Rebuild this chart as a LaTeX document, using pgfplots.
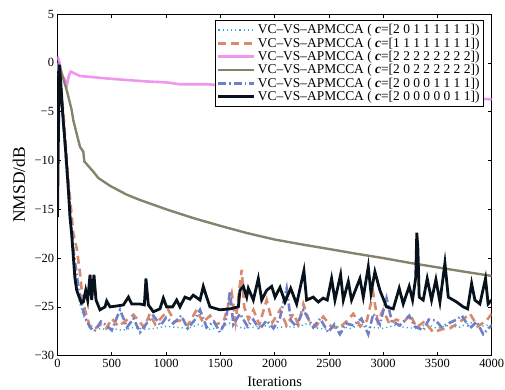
\documentclass[border=0pt]{standalone}
\usepackage{pgfplots}
\pgfplotsset{compat=1.18}
\usepackage{fontspec}
\setmainfont{Liberation Serif}
\definecolor{ccyan}{RGB}{40,170,205}
\definecolor{csalmon}{RGB}{218,138,108}
\definecolor{cpink}{RGB}{240,150,240}
\definecolor{colive}{RGB}{132,132,108}
\definecolor{cblue}{RGB}{112,128,200}
\definecolor{cblack}{RGB}{8,18,28}
\newcommand{\entry}[1]{VC--VS--APMCCA ( \textbf{\textit{c}}=[#1])}
\begin{document}
\begin{tikzpicture}
\useasboundingbox (-57.5bp,-34.3bp) rectangle (447.5bp,355.7bp);
\begin{axis}[
  at={(0,0)}, anchor=south west,
  scale only axis, width=434.2bp, height=341.7bp,
  xmin=0, xmax=4000, ymin=-30, ymax=5,
  xtick={0,500,...,4000},
  ytick={-30,-25,-20,-15,-10,-5,0,5},
  yticklabels={−30,−25,−20,−15,−10,−5,0,5},
  tick align=inside, ticks=major,
  major tick length=4bp,
  tick style={black, line width=0.6pt},
  axis line style={black, line width=0.8pt},
  /pgf/number format/assume math mode=true,
  /pgf/number format/1000 sep={},
  tick label style={font=\fontsize{12.5}{14}\selectfont},
  xlabel={Iterations}, ylabel={NMSD/dB},
  xlabel style={font=\fontsize{14.5}{16}\selectfont, at={(axis description cs:0.5,0)}, anchor=base, yshift=-31bp},
  ylabel style={font=\fontsize{17.5}{19}\selectfont, at={(axis description cs:0,0.5)}, anchor=center, rotate=0, yshift=38.5bp},
  legend style={at={(0.982,0.982)}, anchor=north east, draw=black, line width=0.8pt,
    font=\fontsize{13.5}{15}\selectfont, inner sep=2pt, row sep=-1.5pt},
  legend cell align=left,
  legend image code/.code={\draw[#1] (0bp,0bp) -- (36bp,0bp);},
]
\addplot[ccyan, line width=1.4pt, dash pattern=on 1.2pt off 3pt] coordinates {
(0,0) (30,-3) (60,-7) (100,-13) (150,-20) (200,-24.5) (250,-26.3) (300,-26.9) (400,-27.3) (500,-27.2) (600,-27.4) (700,-27.1) (800,-27.3) (900,-27.2) (1000,-27) (1100,-27.1) (1200,-27.2) (1300,-26.8) (1400,-27.3) (1500,-27.1) (1600,-26.6) (1700,-27.2) (1800,-27.1) (1900,-26.9) (2000,-27.2) (2100,-27) (2200,-27.1) (2300,-26.7) (2400,-27.2) (2500,-27.3) (2600,-27.0) (2700,-27.2) (2800,-26.8) (2900,-27.1) (3000,-27.2) (3100,-26.9) (3200,-27.1) (3300,-27.2) (3400,-26.8) (3500,-27.2) (3600,-26.9) (3700,-27.1) (3800,-26.6) (3900,-27.0) (4000,-26.8)
};
\addlegendentry{\entry{2 0 1 1 1 1 1 1}}
\addplot[csalmon, line width=2.6pt, dash pattern=on 8pt off 5pt] coordinates {
(0,0) (30,-2) (60,-6) (100,-12) (146,-17.5) (177,-19) (207,-21.5) (223,-23.3) (253,-25.3) (300,-27.1) (350,-27.2) (400,-26.8) (450,-27.2) (500,-26.2) (560,-27) (620,-26.5) (700,-25.8) (760,-26.6) (800,-27.1) (850,-25.7) (900,-26.8) (950,-26.2) (1020,-25.3) (1080,-26.5) (1128,-26.4) (1200,-26.9) (1282,-25.3) (1340,-26.6) (1405,-25.9) (1460,-26.8) (1530,-26.5) (1605,-23.6) (1640,-26.5) (1697,-21.2) (1720,-25) (1760,-26.3) (1804,-25.3) (1860,-26.8) (1927,-24.3) (1980,-26.6) (2050,-25.3) (2110,-26.9) (2173,-25.7) (2220,-26.8) (2265,-24.7) (2320,-26.5) (2380,-27) (2448,-26) (2520,-27) (2602,-27.1) (2660,-26.5) (2725,-25.7) (2790,-27) (2850,-26.4) (2909,-23.6) (2950,-26.5) (3000,-25.3) (3060,-26.8) (3120,-26.3) (3185,-26.6) (3250,-25.8) (3308,-27.1) (3380,-26.5) (3461,-27.6) (3540,-27.3) (3615,-27.2) (3700,-26.6) (3800,-25.7) (3870,-27) (3953,-26.4) (4000,-25.7)
};
\addlegendentry{\entry{1 1 1 1 1 1 1 1}}
\addplot[cpink, line width=2.6pt] coordinates {
(0,0.65) (15,0.2) (40,-1.2) (70,-1.8) (88,-2.2) (105,-1.3) (121,-0.9) (207,-1.35) (453,-1.6) (637,-1.76) (852,-1.93) (1000,-2.0) (1128,-2.2) (1387,-2.2) (1700,-2.5) (2000,-2.7) (2500,-3.0) (3000,-3.3) (3500,-3.55) (3930,-3.7) (4000,-3.75)
};
\addlegendentry{\entry{2 2 2 2 2 2 2 2}}
\addplot[colive, line width=2.4pt] coordinates {
(0,0) (23,-0.5) (85,-2.8) (130,-4.8) (146,-5.9) (207,-8.6) (238,-9.1) (247,-10.1) (330,-11.15) (376,-11.8) (484,-12.6) (637,-13.5) (760,-14.05) (1000,-15.0) (1250,-15.9) (1500,-16.7) (1750,-17.45) (2000,-18.1) (2250,-18.6) (2500,-19.07) (2750,-19.55) (3000,-20.0) (3250,-20.5) (3500,-20.95) (3750,-21.4) (4000,-21.83)
};
\addlegendentry{\entry{2 0 2 2 2 2 2 2}}
\addplot[cblue, line width=2.6pt, dash pattern=on 8pt off 3pt on 1.5pt off 3pt] coordinates {
(0,0) (30,-3) (60,-7) (100,-13) (150,-19.5) (200,-23.5) (250,-26) (300,-27.1) (340,-27.5) (400,-26.5) (453,-26.9) (500,-27.4) (576,-25.3) (640,-27.1) (700,-26.2) (760,-27.6) (820,-26.7) (883,-25.9) (950,-26.9) (1000,-26.1) (1067,-26.7) (1140,-25.9) (1200,-27.2) (1260,-26.4) (1313,-25.3) (1374,-27.1) (1440,-26.5) (1497,-27.6) (1550,-26.5) (1589,-23.4) (1620,-26.8) (1681,-25.7) (1750,-27) (1804,-26.3) (1860,-27.3) (1927,-26.4) (1990,-27.2) (2050,-26.1) (2111,-23.1) (2150,-26.4) (2200,-27) (2265,-25.3) (2330,-26.6) (2356,-27.1) (2420,-26.2) (2493,-27.6) (2550,-26.8) (2602,-27.8) (2660,-26.7) (2725,-26.9) (2800,-26.2) (2863,-27.8) (2909,-25.7) (2970,-26.8) (3031,-24.1) (3080,-26.5) (3154,-26.9) (3240,-25.9) (3290,-27) (3369,-27.4) (3420,-26.3) (3486,-26.4) (3540,-27.1) (3600,-26.7) (3677,-26.3) (3725,-25.9) (3800,-27.2) (3860,-26.5) (3922,-27.8) (3970,-27.2) (4000,-26.9)
};
\addlegendentry{\entry{2 0 0 0 1 1 1 1}}
\addplot[cblack, line width=2.8pt] coordinates {
(0,-15.8) (8,-8) (18,-0.2) (30,-2) (50,-5.5) (75,-9) (100,-13) (115,-15.8) (130,-17.5) (146,-19.9) (160,-22) (177,-23.3) (200,-24) (220,-24.6) (238,-24.5) (260,-23.3) (278,-24.3) (300,-21.7) (315,-24.3) (336,-21.7) (355,-24.3) (391,-25.3) (438,-25) (453,-24.4) (484,-25) (550,-24.9) (607,-24.8) (653,-24) (684,-24.7) (760,-24.7) (800,-24.8) (815,-22.1) (837,-24.8) (883,-25.5) (944,-25.2) (975,-24.1) (1005,-25) (1060,-25) (1098,-24.3) (1128,-25) (1174,-24) (1220,-24.2) (1251,-23.8) (1313,-24.3) (1343,-22.9) (1374,-24) (1405,-25) (1497,-25.3) (1589,-25.2) (1666,-25) (1681,-23.3) (1712,-22.9) (1743,-24) (1758,-23.1) (1804,-24.3) (1850,-22.1) (1881,-24.3) (1927,-23.3) (1973,-22.9) (2004,-24) (2050,-23) (2096,-24.5) (2148,-23.1) (2203,-24.7) (2270,-21.3) (2295,-24.3) (2356,-24) (2402,-24.5) (2448,-24.1) (2485,-24.3) (2525,-22.1) (2556,-24.3) (2608,-21.7) (2633,-24.3) (2679,-22.4) (2709,-24.3) (2786,-22.1) (2817,-24) (2863,-20.9) (2888,-23.6) (2924,-21.4) (2970,-23.3) (3031,-25) (3093,-25.2) (3148,-23.1) (3185,-24.7) (3240,-22.9) (3271,-24.3) (3300,-22) (3310,-17.4) (3320,-19) (3332,-24) (3369,-24.3) (3406,-22.1) (3446,-24.3) (3486,-22.2) (3523,-24.5) (3569,-20.5) (3600,-24) (3677,-24.5) (3738,-25) (3778,-25.2) (3815,-22.6) (3845,-24.3) (3891,-24.7) (3943,-22.1) (3967,-24.7) (4000,-24.3)
};
\addlegendentry{\entry{2 0 0 0 0 0 1 1}}
\end{axis}
\end{tikzpicture}
\end{document}
